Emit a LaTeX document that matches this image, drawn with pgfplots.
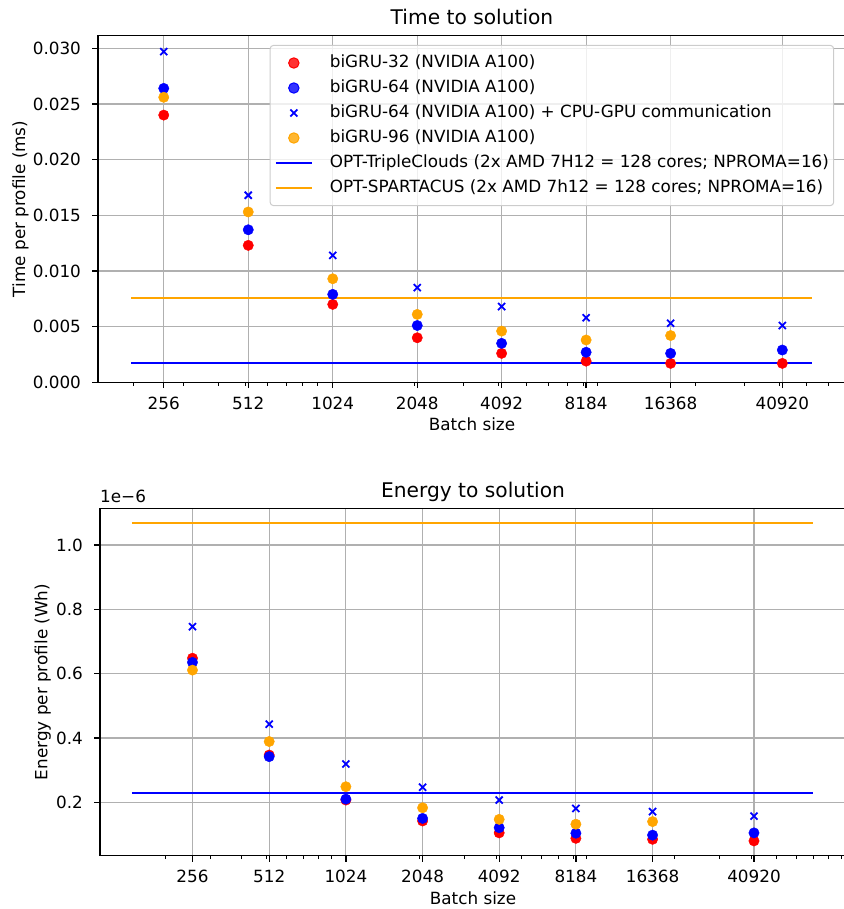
\documentclass[border=0pt]{standalone}
\usepackage{fontspec}
\setmainfont{DejaVu Sans}
\usepackage{pgfplots}
\pgfplotsset{compat=1.18}
\definecolor{mplorange}{HTML}{FFA500}
\definecolor{gridgray}{HTML}{B0B0B0}
\definecolor{legframe}{HTML}{CCCCCC}
\newcommand{\lbl}{\fontsize{16.8}{20}\selectfont}
\newcommand{\ttl}{\fontsize{20.2}{24}\selectfont}

\pgfplotsset{
  dotred/.style={only marks, mark=*, mark size=5.2pt, color=red},
  dotblue/.style={only marks, mark=*, mark size=5.2pt, color=blue},
  crossblue/.style={only marks, mark=x, mark size=5pt, color=blue, mark options={line width=1.8pt}},
  dotorange/.style={only marks, mark=*, mark size=5.2pt, color=mplorange},
}

\begin{document}
\begin{tikzpicture}
% ---- top: time to solution
\begin{axis}[
    name=top,
    scale only axis,
    at={(98pt,-382.3pt)}, anchor=south west,
    width=748pt, height=346.8pt,
    xmode=log,
    xmin=149.3, xmax=69000,
    ymin=0, ymax=0.03115,
    tick pos=left, tick align=outside,
    major tick length=5.9pt, minor tick length=3.4pt,
    tick style={black, line width=1.3pt},
    minor tick style={black, line width=1pt},
    axis line style={line width=1.3pt},
    xmajorgrids, ymajorgrids,
    major grid style={gridgray, line width=1.2pt},
    xtick={256,512,1024,2048,4092,8184,16368,40920},
    xticklabels={256,512,1024,2048,4092,8184,16368,40920},
    minor xtick={200,300,400,500,600,700,800,900,2000,3000,4000,5000,6000,7000,8000,9000,20000,30000,40000,50000,60000},
    ytick={0,0.005,0.010,0.015,0.020,0.025,0.030},
    scaled y ticks=false,
    tick label style={font=\lbl, inner sep=0pt},
    x tick label style={anchor=north, yshift=-8.7pt},
    y tick label style={anchor=east, xshift=-11pt, /pgf/number format/fixed, /pgf/number format/precision=3, /pgf/number format/fixed zerofill, /pgf/number format/assume math mode=true},
    label style={font=\lbl},
    xlabel={Batch size},
    xlabel style={at={(axis description cs:0.5,-0.1398)}, anchor=base},
    ylabel={Time per profile (ms)},
    ylabel style={at={(axis description cs:-0.0976,0.5)}, anchor=base},
    title={Time to solution},
    title style={font=\ttl, at={(axis description cs:0.5,1.013)}, anchor=base},
    legend image code/.code={\draw[mark repeat=2,mark phase=2,#1] plot coordinates {(0pt,0pt) (18pt,0pt) (36pt,0pt)};},
    legend cell align=left,
    legend style={
        at={(axis description cs:0.984,0.9726)}, anchor=north east,
        font=\lbl, draw=legframe, line width=1pt, rounded corners=3pt,
        fill=white, fill opacity=0.8, text opacity=1, draw opacity=1,
        inner xsep=4.6pt, inner ysep=9pt, row sep=8pt,
        nodes={inner sep=0pt, text height=12.5pt, text depth=4.5pt},
        /tikz/every odd column/.append style={column sep=17pt},
    },
]
\addplot[dotred] coordinates {
    (256,0.0240) (512,0.0123) (1024,0.0070) (2048,0.0040)
    (4092,0.0026) (8184,0.0019) (16368,0.0017) (40920,0.0017)};
\addlegendentry{biGRU-32 (NVIDIA A100)}
\addplot[dotblue] coordinates {
    (256,0.0264) (512,0.0137) (1024,0.0079) (2048,0.0051)
    (4092,0.0035) (8184,0.0027) (16368,0.0026) (40920,0.0029)};
\addlegendentry{biGRU-64 (NVIDIA A100)}
\addplot[crossblue] coordinates {
    (256,0.0297) (512,0.0168) (1024,0.0114) (2048,0.0085)
    (4092,0.0068) (8184,0.0058) (16368,0.0053) (40920,0.0051)};
\addlegendentry{biGRU-64 (NVIDIA A100) + CPU-GPU communication}
\addplot[dotorange] coordinates {
    (256,0.0256) (512,0.0153) (1024,0.0093) (2048,0.0061)
    (4092,0.0046) (8184,0.0038) (16368,0.0042)};
\addlegendentry{biGRU-96 (NVIDIA A100)}
\addplot[blue, line width=2pt, mark=none] coordinates {(196,0.0017) (52300,0.0017)};
\addlegendentry{OPT-TripleClouds (2x AMD 7H12 = 128 cores; NPROMA=16)}
\addplot[mplorange, line width=2pt, mark=none] coordinates {(196,0.00755) (52300,0.00755)};
\addlegendentry{OPT-SPARTACUS (2x AMD 7h12 = 128 cores; NPROMA=16)}
\end{axis}

% ---- bottom: energy to solution (values in 1e-6 Wh)
\begin{axis}[
    name=bot,
    scale only axis,
    at={(100pt,-855.7pt)}, anchor=south west,
    width=746pt, height=347.4pt,
    xmode=log,
    xmin=111, xmax=94000,
    ymin=0.034, ymax=1.114,
    tick pos=left, tick align=outside,
    major tick length=5.9pt, minor tick length=3.4pt,
    tick style={black, line width=1.3pt},
    minor tick style={black, line width=1pt},
    axis line style={line width=1.3pt},
    xmajorgrids, ymajorgrids,
    major grid style={gridgray, line width=1.2pt},
    xtick={256,512,1024,2048,4092,8184,16368,40920},
    xticklabels={256,512,1024,2048,4092,8184,16368,40920},
    minor xtick={200,300,400,500,600,700,800,900,2000,3000,4000,5000,6000,7000,8000,9000,20000,30000,40000,50000,60000,70000,80000,90000},
    ytick={0.2,0.4,0.6,0.8,1.0},
    scaled y ticks=false,
    tick label style={font=\lbl, inner sep=0pt},
    x tick label style={anchor=north, yshift=-8.7pt},
    y tick label style={anchor=east, xshift=-11pt, /pgf/number format/fixed, /pgf/number format/precision=1, /pgf/number format/fixed zerofill, /pgf/number format/assume math mode=true},
    label style={font=\lbl},
    xlabel={Batch size},
    xlabel style={at={(axis description cs:0.5,-0.1396)}, anchor=base},
    ylabel={Energy per profile (Wh)},
    ylabel style={at={(axis description cs:-0.0706,0.5)}, anchor=base},
    title={Energy to solution},
    title style={font=\ttl, at={(axis description cs:0.5,1.013)}, anchor=base},
]
\addplot[dotred] coordinates {
    (256,0.648) (512,0.347) (1024,0.207) (2048,0.142)
    (4092,0.105) (8184,0.088) (16368,0.085) (40920,0.080)};
\addplot[dotblue] coordinates {
    (256,0.635) (512,0.342) (1024,0.210) (2048,0.150)
    (4092,0.121) (8184,0.104) (16368,0.098) (40920,0.105)};
\addplot[crossblue] coordinates {
    (256,0.746) (512,0.443) (1024,0.319) (2048,0.247)
    (4092,0.207) (8184,0.181) (16368,0.171) (40920,0.157)};
\addplot[dotorange] coordinates {
    (256,0.611) (512,0.389) (1024,0.2485) (2048,0.183)
    (4092,0.147) (8184,0.132) (16368,0.140)};
\addplot[blue, line width=2pt, mark=none] coordinates {(148,0.230) (69600,0.230)};
\addplot[mplorange, line width=2pt, mark=none] coordinates {(148,1.0675) (69600,1.0675)};
\end{axis}
\node[anchor=base west, inner sep=0pt, font=\lbl] at ([yshift=5.6pt]bot.north west) {1e−6};

\pgfresetboundingbox
\useasboundingbox (0,0) rectangle (843pt,-909pt);
\end{tikzpicture}
\end{document}
